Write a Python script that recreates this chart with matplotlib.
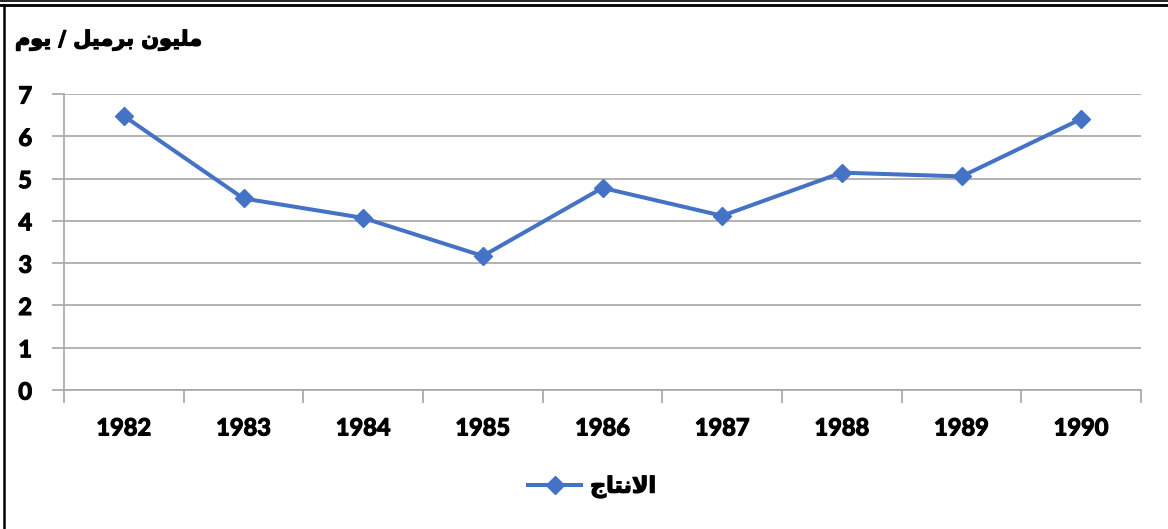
import numpy as np
import matplotlib
matplotlib.use("Agg")
import matplotlib.pyplot as plt
import matplotlib.patheffects as pe
from matplotlib.lines import Line2D

# production, million barrels / day
years = ["1982", "1983", "1984", "1985", "1986", "1987", "1988", "1989", "1990"]
production = [6.48, 4.53, 4.07, 3.17, 4.78, 4.12, 5.14, 5.05, 6.41]
yticks = [0, 1, 2, 3, 4, 5, 6, 7]

# arabic text in presentation forms, visual order (no shaping in matplotlib)
title = "\uFEE1\uFEEE\uFEF3 / \uFEDE\uFEF4\uFEE3\uFEAE\uFE91 \uFEE5\uFEEE\uFEF4\uFEE0\uFEE3"
series_name = "\uFE9D\uFE8E\uFE98\uFEE7\uFEFB\uFE8D"

W, H = 1168, 529
fig = plt.figure(figsize=(W / 100, H / 100), dpi=100)
ax = fig.add_axes([64 / W, 1 - 390 / H, (1141 - 64) / W, (390 - 94) / H])

x = np.arange(len(years))
ax.plot(x, production, color="#4472C4", lw=2.9, marker="D", ms=9.5,
        label=series_name)

grey = "#a6a6a6"
ax.set_xlim(-0.5, len(years) - 0.5)
ax.set_ylim(0, 7)
ax.set_yticks(yticks)
ax.set_xticks(x)
ax.set_xticklabels(years)
ax.set_xticks(np.arange(len(years) + 1) - 0.5, minor=True)
ax.tick_params(axis="x", which="major", length=0, pad=19)
ax.tick_params(axis="x", which="minor", length=9, width=1.2, color=grey)
ax.tick_params(axis="y", length=9, width=1.2, color=grey, pad=14)
thick = [pe.withStroke(linewidth=0.9, foreground="black")]
for lab in ax.get_xticklabels() + ax.get_yticklabels():
    lab.set_fontfamily("Lato")
    lab.set_fontweight("bold")
    lab.set_fontsize(17)
    lab.set_path_effects(thick)
ax.grid(axis="y", color=grey, lw=1.2)
ax.set_axisbelow(True)
for s in ("top", "right"):
    ax.spines[s].set_visible(False)
for s in ("left", "bottom"):
    ax.spines[s].set_color(grey)
    ax.spines[s].set_linewidth(1.2)

fig.text(15 / W, 1 - 40 / H, title, family="DejaVu Sans", weight="bold",
         fontsize=15, ha="left", va="center", path_effects=thick)

leg = fig.legend(loc="center", bbox_to_anchor=(592 / W, 1 - 487 / H),
                 frameon=False, handlelength=2.4, handletextpad=0.4,
                 prop={"family": "DejaVu Sans", "weight": "bold", "size": 16})
for t in leg.get_texts():
    t.set_path_effects(thick)

# frame lines
fig.add_artist(Line2D([0, 1], [1 - 1 / H, 1 - 1 / H], color="black", lw=1.2))
fig.add_artist(Line2D([0, 1], [1 - 4.5 / H, 1 - 4.5 / H], color="black", lw=2))
fig.add_artist(Line2D([4 / W, 4 / W], [0, 1 - 4.5 / H], color="black", lw=1.8))

fig.savefig("out.png", dpi=100)
